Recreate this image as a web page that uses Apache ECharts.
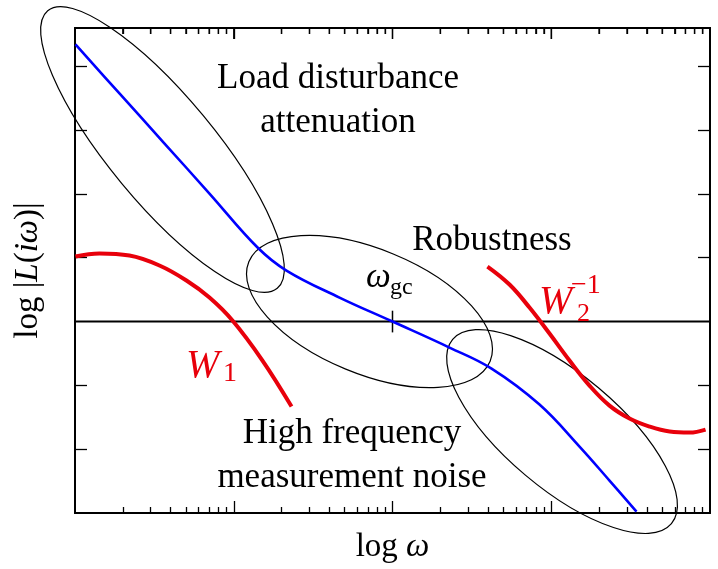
<!DOCTYPE html>
<html>
<head>
<meta charset="utf-8">
<script src="https://cdn.jsdelivr.net/npm/echarts@6/dist/echarts.min.js"></script>
<style>
html,body{margin:0;padding:0;background:#fff;}
#chart{width:718px;height:569px;}
</style>
</head>
<body>
<div id="chart"></div>
<script>
// x = log10(omega), y = log|L(i omega)|
var loopX = [-1.997, -1.72, -1.436, -1.153, -0.85, -0.668, -0.334, 0, 0.359, 0.624, 0.926, 1.178, 1.367, 1.537]
var loopY = [4.342, 3.574, 2.79, 2.006, 1.16, 0.799, 0.376, 0, -0.408, -0.737, -1.301, -1.959, -2.492, -2.978]

var w1X = [-1.997, -1.846, -1.657, -1.468, -1.298, -1.153, -1.008, -0.819, -0.636]
var w1Y = [1.019, 1.066, 1.034, 0.878, 0.643, 0.376, 0.016, -0.611, -1.332]

var w2invX = [0.598, 0.737, 0.863, 0.989, 1.115, 1.241, 1.367, 1.493, 1.619, 1.746, 1.871, 1.972]
var w2invY = [0.862, 0.58, 0.219, -0.188, -0.611, -1.003, -1.317, -1.52, -1.646, -1.724, -1.74, -1.693]

// ellipses: centre, end of major axis, end of minor axis (data coords)
var ellCenter = [[-1.449, 2.696], [-0.145, 0.157], [1.068, -1.724]]
var ellMajor = [[-0.726, 0.522], [0.615, -0.622], [1.757, -3.168]]
var ellMinor = [[-1.706, 2.166], [-0.294, -0.746], [0.837, -2.406]]

var xMin = -2, xMax = 2
var yMin = -3, yMax = 4.6

var zeroLine = [[-2, 0], [2.06, 0]]
var gcTick = [[0, -0.17], [0, 0.17]]
var topFrame = [[xMin, yMax], [xMax, yMax]]

var majorTicksX = [-1, 0, 1]
var ticksY = [-2, -1, 1, 2, 3, 4]

// log minor ticks 2..9 in every decade
var minorTicksX = []
for (var d = -2; d < 2; d++) {
    for (var k = 2; k <= 9; k++) {
        minorTicksX.push(d + Math.log10(k))
    }
}

function zip(a, b) {
    var out = []
    for (var i = 0; i < a.length; i++) out.push([a[i], b[i]])
    return out
}

var serif = '"Liberation Serif", "DejaVu Serif", serif'

function xAx(pos, ticks, len) {
    return {
        type: 'value', min: xMin, max: xMax, position: pos, offset: 0,
        axisLine: {show: true, onZero: false, lineStyle: {color: '#000', width: 2}},
        axisTick: {show: true, inside: true, length: len, customValues: ticks, lineStyle: {color: '#000', width: 1.3}},
        axisLabel: {show: false},
        splitLine: {show: false}
    }
}
function yAx(pos) {
    return {
        type: 'value', min: yMin, max: yMax, position: pos, offset: 0,
        axisLine: {show: true, onZero: false, lineStyle: {color: '#000', width: 2}},
        axisTick: {show: true, inside: true, length: 12, customValues: ticksY, lineStyle: {color: '#000', width: 1.3}},
        axisLabel: {show: false},
        splitLine: {show: false}
    }
}

var xAxes = [
    xAx('bottom', majorTicksX, 12),
    xAx('bottom', minorTicksX, 6),
    xAx('top', majorTicksX, 11),
    xAx('top', minorTicksX, 6)
]
xAxes[0].name = '{r|log }{i|ω}'
xAxes[0].nameLocation = 'middle'
xAxes[0].nameGap = 18
xAxes[0].nameTextStyle = {
    color: '#000', fontFamily: serif, fontSize: 33,
    rich: {
        r: {fontFamily: serif, fontSize: 33, color: '#000'},
        i: {fontFamily: serif, fontSize: 33, fontStyle: 'italic', color: '#000'}
    }
}
var yAxes = [yAx('left'), yAx('right')]
yAxes[0].name = '{r|log |}{i|L}{r|(}{i|iω}{r|)|}'
yAxes[0].nameLocation = 'middle'
yAxes[0].nameGap = 30
yAxes[0].nameTextStyle = {
    color: '#000', fontFamily: serif, fontSize: 33,
    rich: {
        r: {fontFamily: serif, fontSize: 33, color: '#000'},
        i: {fontFamily: serif, fontSize: 33, fontStyle: 'italic', color: '#000'}
    }
}

var ellData = []
for (var e = 0; e < ellCenter.length; e++) {
    ellData.push([ellCenter[e][0], ellCenter[e][1], ellMajor[e][0], ellMajor[e][1], ellMinor[e][0], ellMinor[e][1]])
}

// ticks hanging down from the top frame
function topTicks(values, len) {
    return {
        type: 'custom', data: values.map(function (v) { return [v, yMax] }), silent: true, clip: false, z: 5,
        renderItem: function (params, api) {
            var p = api.coord([api.value(0), api.value(1)])
            return {
                type: 'line',
                shape: {x1: p[0], y1: p[1], x2: p[0], y2: p[1] + len},
                style: {stroke: '#000', lineWidth: 1.3}
            }
        }
    }
}

function txt(text, x, base, size, opt) {
    opt = opt || {}
    return {
        type: 'text', z: 100,
        style: {
            text: text, x: x, y: base - 0.32 * size,
            fill: opt.color || '#000',
            font: (opt.italic ? 'italic ' : '') + size + 'px ' + serif,
            align: opt.align || 'left', verticalAlign: 'middle'
        }
    }
}
var red = '#e8000b'

var myChart = echarts.init(document.getElementById('chart'))
myChart.setOption({
    animation: false,
    backgroundColor: '#fff',
    grid: {left: 75, right: 8, top: 28, bottom: 56, containLabel: false, outerBoundsMode: 'none'},
    xAxis: xAxes,
    yAxis: yAxes,
    series: [
        {
            type: 'line', data: topFrame, clip: false, showSymbol: false, silent: true, z: 5,
            lineStyle: {color: '#000', width: 2}
        },
        topTicks(majorTicksX, 11),
        topTicks(minorTicksX, 6),
        {
            type: 'line', data: zeroLine, clip: false, showSymbol: false, silent: true,
            lineStyle: {color: '#000', width: 2}
        },
        {
            type: 'line', data: gcTick, clip: false, showSymbol: false, silent: true,
            lineStyle: {color: '#000', width: 1.5}
        },
        {
            type: 'custom', data: ellData, silent: true,
            renderItem: function (params, api) {
                var c = api.coord([api.value(0), api.value(1)])
                var m = api.coord([api.value(2), api.value(3)])
                var n = api.coord([api.value(4), api.value(5)])
                var a = Math.hypot(m[0] - c[0], m[1] - c[1])
                var b = Math.hypot(n[0] - c[0], n[1] - c[1])
                var ang = Math.atan2(m[1] - c[1], m[0] - c[0])
                return {
                    type: 'ellipse', x: c[0], y: c[1], rotation: -ang,
                    shape: {cx: 0, cy: 0, rx: a, ry: b},
                    style: {fill: 'none', stroke: '#000', lineWidth: 1.2}
                }
            }
        },
        {
            type: 'line', data: zip(loopX, loopY), smooth: 0.4, showSymbol: false,
            lineStyle: {color: '#0000ff', width: 2.6}
        },
        {
            type: 'line', data: zip(w1X, w1Y), smooth: 0.4, showSymbol: false,
            lineStyle: {color: red, width: 4}
        },
        {
            type: 'line', data: zip(w2invX, w2invY), smooth: 0.4, showSymbol: false,
            lineStyle: {color: red, width: 4}
        }
    ],
    graphic: [
        txt('Load disturbance', 338, 90, 35, {align: 'center'}),
        txt('attenuation', 338, 134, 35, {align: 'center'}),
        txt('Robustness', 492, 252, 35, {align: 'center'}),
        txt('High frequency', 352, 445, 35, {align: 'center'}),
        txt('measurement noise', 352, 489, 35, {align: 'center'}),
        txt('ω', 366, 289, 35, {italic: true}),
        txt('gc', 390, 295, 24),
        txt('W', 186, 379, 40, {italic: true, color: red}),
        txt('1', 223, 383, 28, {color: red}),
        txt('W', 539, 315, 40, {italic: true, color: red}),
        txt('2', 577, 322, 26, {color: red}),
        txt('−1', 571, 295, 28, {color: red})
    ]
})
</script>
</body>
</html>
